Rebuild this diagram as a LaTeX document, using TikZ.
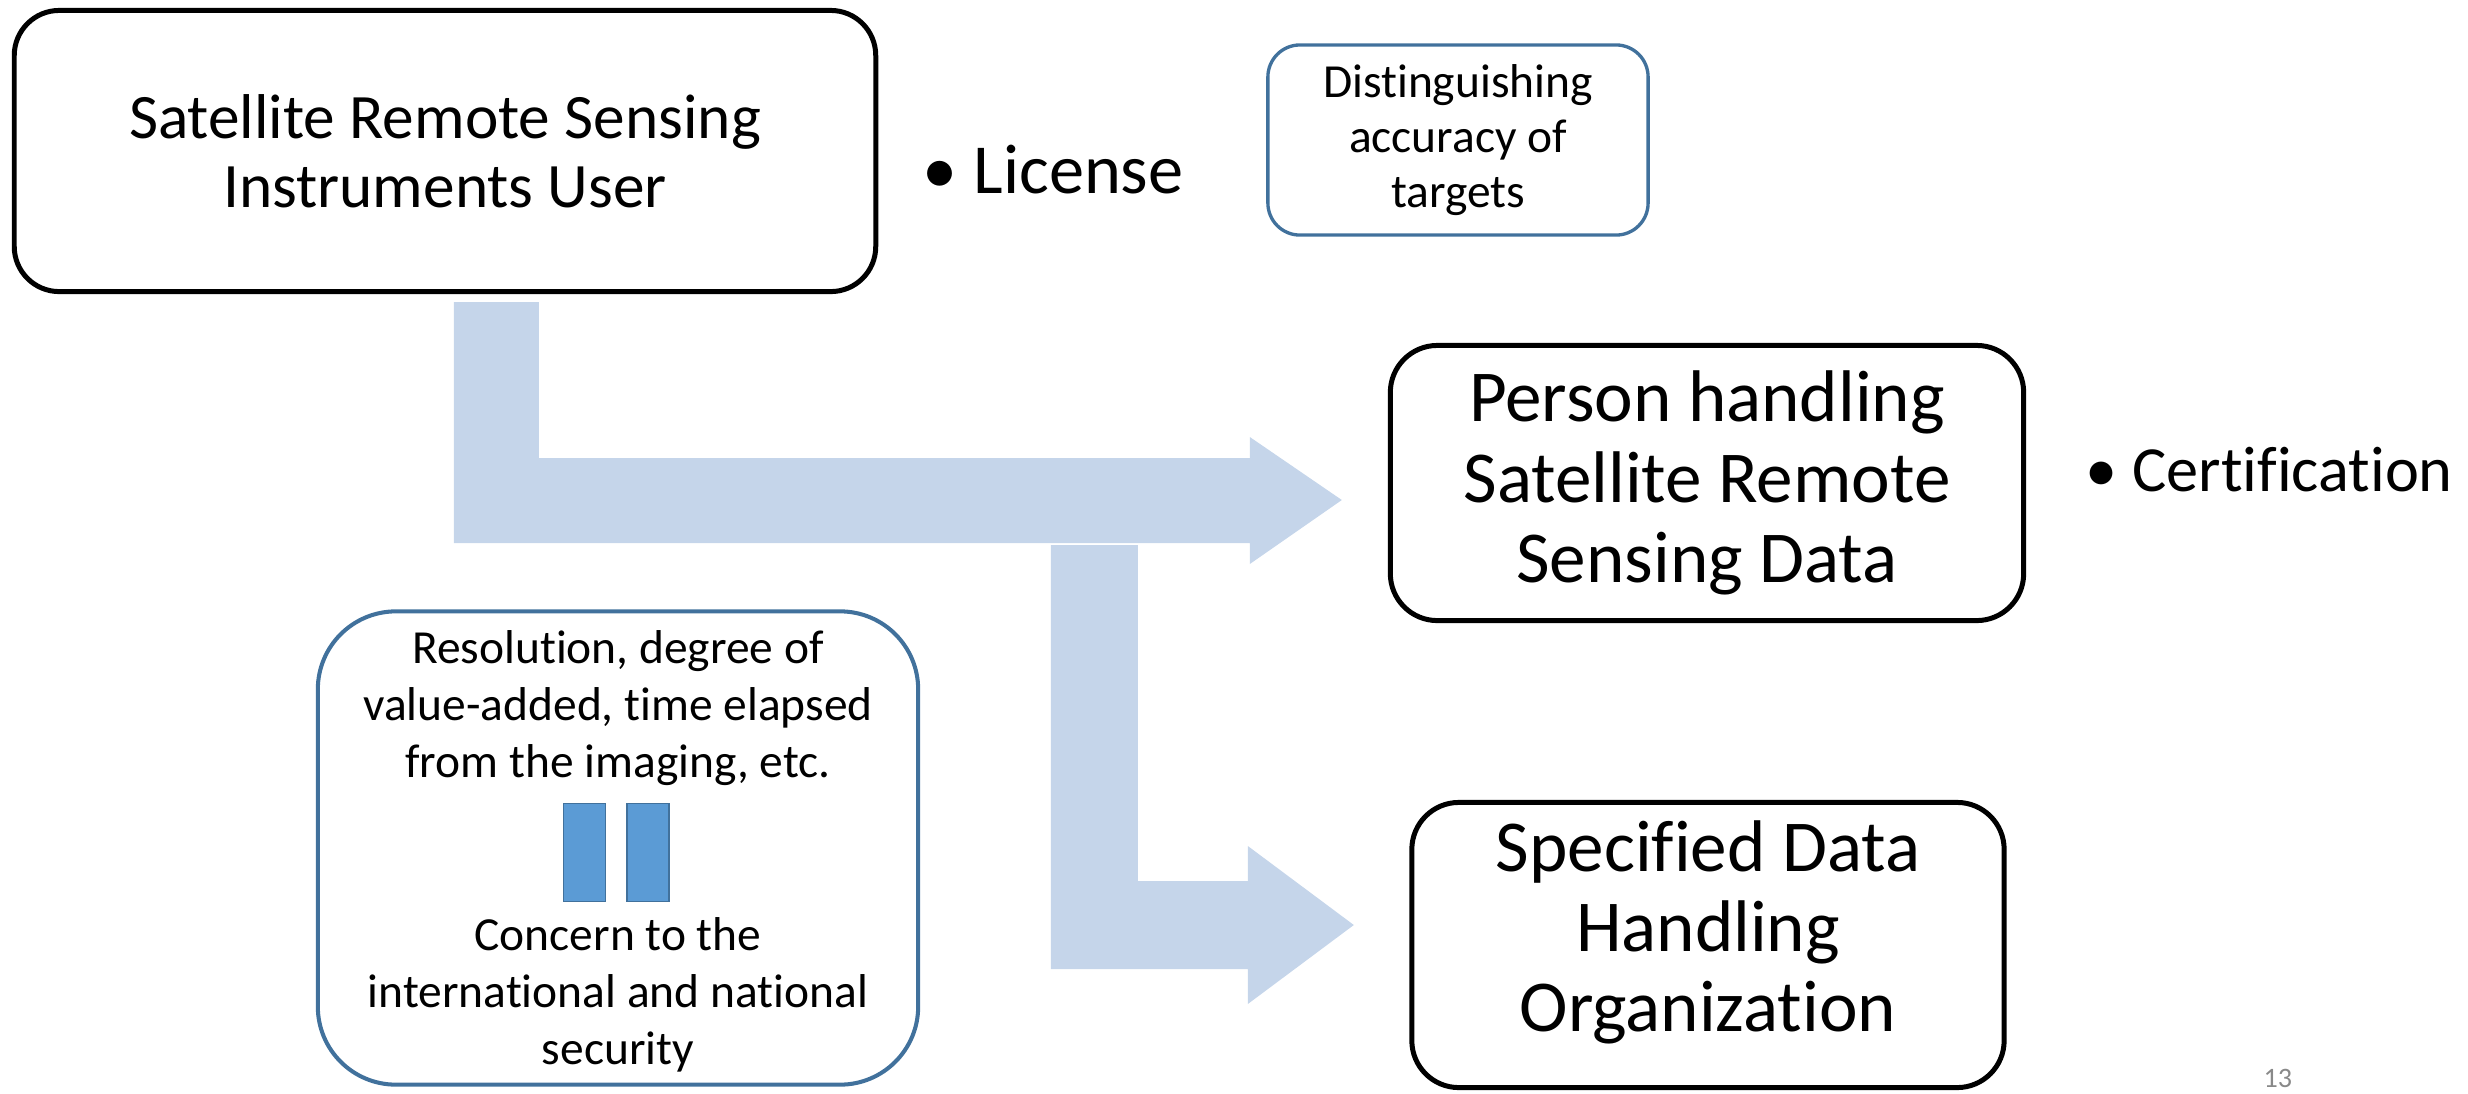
\documentclass[tikz,border=0pt]{standalone}
\usepackage{fontspec}
\setmainfont{Carlito}[Ligatures=NoCommon]
\usetikzlibrary{positioning}
\definecolor{arrowfill}{HTML}{C5D5EA}
\definecolor{boxblue}{HTML}{41719C}
\definecolor{eqblue}{HTML}{5B9BD5}
\definecolor{pagegray}{HTML}{898989}
\tikzset{
  userbox/.style={draw, line width=1.42pt, rounded corners=0.45cm, align=center, inner sep=0pt, font=\fontsize{18}{19.6}\selectfont},
  bigbox/.style={draw, line width=1.42pt, rounded corners=0.47cm, align=center, inner sep=0pt, font=\fontsize{20.8}{22.8}\selectfont},
  notebox/.style={draw=boxblue, line width=0.95pt, rounded corners=0.32cm, align=center, inner sep=0pt, font=\fontsize{13.5}{15.6}\selectfont},
  concernbox/.style={draw=boxblue, line width=1.15pt, rounded corners=0.78cm, inner sep=0pt},
  smalltext/.style={align=center, inner sep=0pt, font=\fontsize{13.5}{16.2}\selectfont},
  eqbar/.style={draw=boxblue, fill=eqblue, line width=0.45pt, minimum width=0.42cm, minimum height=0.98cm, inner sep=0pt},
  blockarrow/.style={fill=arrowfill},
  pagenum/.style={text=pagegray, inner sep=0pt, font=\fontsize{8}{9.6}\selectfont}
}
\begin{document}
\begin{tikzpicture}[x=0.01cm, y=-0.01cm]
    \useasboundingbox (0,0) rectangle (2468,1093);
    % boxes
    \node[userbox, minimum width=8.61cm, minimum height=2.81cm] (user) at (445,151) {Satellite Remote Sensing\\Instruments User};
    \node[notebox, minimum width=3.80cm, minimum height=1.90cm] (accuracy) at (1458,140) {Distinguishing\\accuracy of\\targets};
    \node[bigbox, minimum width=6.33cm, minimum height=2.75cm] (person) at (1707,483) {Person handling\\Satellite Remote\\Sensing Data};
    \node[bigbox, minimum width=5.92cm, minimum height=2.85cm] (org) at (1708,945) {Specified Data\\Handling\\Organization\rule[-0.38cm]{0pt}{0.38cm}};
    \node[concernbox, minimum width=6.0cm, minimum height=4.73cm] (concern) at (618,848) {};
    % bullets
    \node[inner sep=0pt, anchor=base west, font=\fontsize{20}{24}\selectfont] (license) at (922,193) {\textbullet\ License};
    \node[inner sep=0pt, anchor=base west, font=\fontsize{18.3}{22}\selectfont] (cert) at (2085,491) {\textbullet\ Certification};
    % inside the concern box
    \node[smalltext] (resol) at (618,708) {Resolution, degree of\\value-added, time elapsed\\from the imaging, etc.};
    \node[eqbar] (eqleft) at (584.5,852.5) {};
    \node[eqbar, right=0.2cm of eqleft] (eqright) {};
    \node[smalltext] (secur) at (618,995) {Concern to the\\international and national\\security};
    % block arrows
    \coordinate (tip1) at ([shift={(-46,17)}]person.west);
    \coordinate (tip2) at ([shift={(-55.5,-20)}]org.west);
    \fill[blockarrow] (tip1) -- ++(-92,-63) -- ++(0,21) -- ++(-711,0) -- ++(0,-156) -- ++(-85,0)
        -- ++(0,241) -- ++(796,0) -- ++(0,21) -- cycle;
    \fill[blockarrow] (tip2) -- ++(-106,-79) -- ++(0,35) -- ++(-110,0) -- ++(0,-336) -- ++(-87,0)
        -- ++(0,424) -- ++(197,0) -- ++(0,35) -- cycle;
    \node[pagenum, anchor=base west] (page) at (2263,1087) {13};
\end{tikzpicture}
\end{document}
